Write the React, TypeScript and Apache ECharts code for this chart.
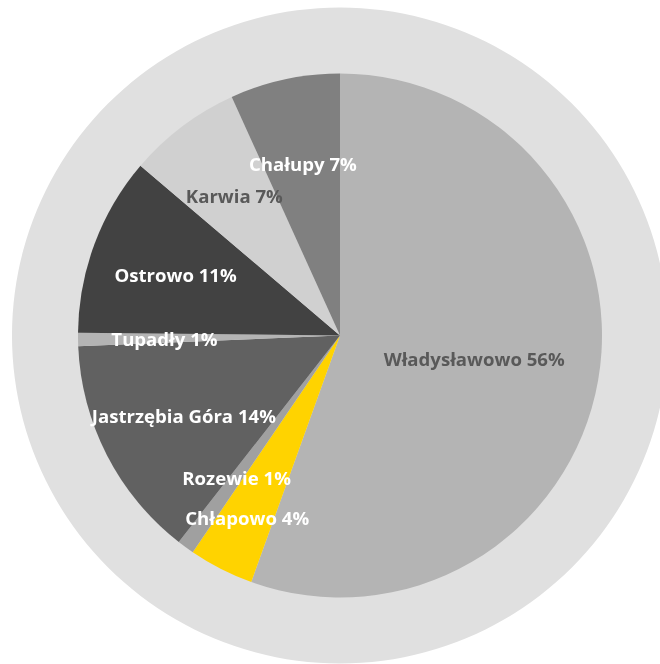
import React, { useEffect, useRef } from "react";
import * as echarts from "echarts";

const categories = ["Władysławowo", "Chłapowo", "Rozewie", "Jastrzębia Góra", "Tupadły", "Ostrowo", "Karwia", "Chałupy"];
const values = [55.5, 4.0, 1.05, 13.8, 0.82, 11.05, 7.0, 6.78];
const colors = ["#b4b4b4", "#ffd300", "#a0a0a0", "#616161", "#b4b4b4", "#424242", "#d0d0d0", "#808080"];
const labelColors = ["#595959", "#ffffff", "#ffffff", "#ffffff", "#ffffff", "#ffffff", "#595959", "#ffffff"];
const labelRadiusFactor = [0.52, 0.78, 0.67, 0.67, 0.67, 0.67, 0.67, 0.67];

const CX = 340;
const CY = 335.5;
const R = 262;
const BG_R = 328;

export default function App() {
  const ref = useRef<HTMLDivElement>(null);
  useEffect(() => {
    if (!ref.current) return;
    const chart = echarts.init(ref.current, null, { renderer: "svg" });
    const total = values.reduce((a, b) => a + b, 0);
    const mids: number[] = [];
    let cum = 0;
    values.forEach((v) => {
      mids.push(((cum + v / 2) / total) * Math.PI * 2);
      cum += v;
    });
    chart.setOption({
      animation: false,
      series: [
        {
          type: "pie",
          silent: true,
          center: [CX, CY],
          radius: [0, BG_R],
          label: { show: false },
          labelLine: { show: false },
          itemStyle: { color: "#e0e0e0" },
          data: [{ value: 1, name: "bg" }],
          z: 1,
        },
        {
          type: "pie",
          center: [CX, CY],
          radius: [0, R],
          startAngle: 90,
          clockwise: true,
          z: 2,
          labelLine: { show: false },
          label: {
            show: true,
            position: "inside",
            fontFamily: "Open Sans",
            fontWeight: "bold",
            fontSize: 18.6,
            formatter: (p: any) => `${p.name} ${Math.round(p.percent + 1e-9)}%`,
          },
          labelLayout: (p: any) => {
            const i = p.dataIndex;
            const a = mids[i];
            const d = labelRadiusFactor[i] * R;
            return {
              x: CX + d * Math.sin(a),
              y: CY - d * Math.cos(a),
              align: "center",
              verticalAlign: "middle",
            };
          },
          data: categories.map((name, i) => ({
            name,
            value: values[i],
            itemStyle: { color: colors[i] },
            label: { color: labelColors[i] },
          })),
        },
      ],
    });
    return () => chart.dispose();
  }, []);
  return <div ref={ref} style={{ position: "fixed", left: 0, top: 0, width: 660, height: 664 }} />;
}
